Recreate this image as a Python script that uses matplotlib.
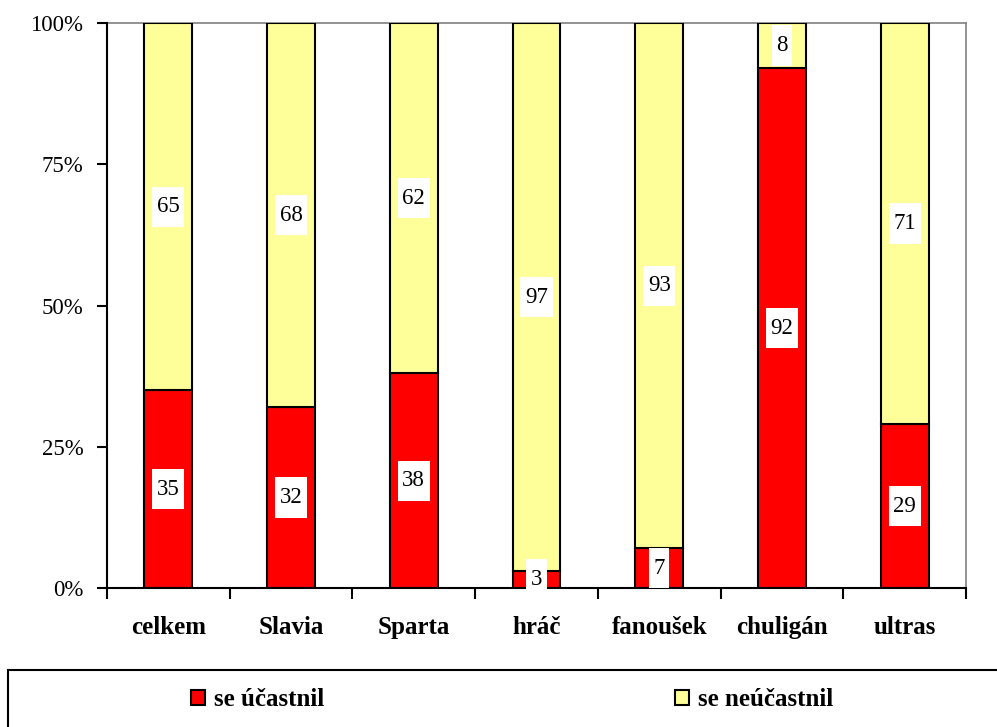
import matplotlib.pyplot as plt
from matplotlib.patches import Rectangle
from matplotlib.path import Path
from matplotlib.ticker import FixedLocator, PercentFormatter

plt.rcParams['font.family'] = ['Liberation Serif', 'DejaVu Serif']

categories = ["celkem", "Slavia", "Sparta", "hráč", "fanoušek", "chuligán", "ultras"]
ucastnil = [35, 32, 38, 3, 7, 92, 29]
neucastnil = [65, 68, 62, 97, 93, 8, 71]
series_names = ["se účastnil", "se neúčastnil"]


def tall_box(x0, y0, width, height, mutation_size):
    # white label box, taller than wide like the Excel data labels
    px = 0.2 * mutation_size
    py = 0.42 * mutation_size
    x0, y0 = x0 - px, y0 - py
    x1, y1 = x0 + width + 2 * px, y0 + height + 2 * py
    return Path([(x0, y0), (x1, y0), (x1, y1), (x0, y1), (x0, y0)], closed=True)


fig = plt.figure(figsize=(9.97, 7.27), dpi=100)
ax = fig.add_axes([107/997, 1-588/727, (966-107)/997, (588-23)/727])

x = list(range(len(categories)))
w = 0.39
b1 = ax.bar(x, ucastnil, width=w, color="#FF0000", edgecolor="black", linewidth=1.5,
            label=series_names[0], zorder=3)
b2 = ax.bar(x, neucastnil, width=w, bottom=ucastnil, color="#FFFF99", edgecolor="black",
            linewidth=1.5, label=series_names[1], zorder=3)

box = dict(boxstyle=tall_box, facecolor="white", edgecolor="none")
for i in x:
    ax.text(i, ucastnil[i] / 2, str(ucastnil[i]), ha="center", va="center", fontsize=16.5,
            bbox=box, zorder=6, clip_on=False)
    ax.text(i, ucastnil[i] + neucastnil[i] / 2, str(neucastnil[i]), ha="center", va="center",
            fontsize=16.5, bbox=box, zorder=6, clip_on=False)

ax.set_xlim(-0.5, len(categories) - 0.5)
ax.set_ylim(0, 100)
ax.set_yticks([0, 25, 50, 75, 100])
ax.yaxis.set_major_formatter(PercentFormatter(decimals=0))
ax.tick_params(axis="y", direction="out", length=7, width=1.5, labelsize=16.5, pad=10)

ax.set_xticks(x)
ax.set_xticklabels(categories, fontsize=18, fontweight="bold")
ax.tick_params(axis="x", which="major", length=0, pad=20)
ax.xaxis.set_minor_locator(FixedLocator([i - 0.5 for i in range(len(categories) + 1)]))
ax.tick_params(axis="x", which="minor", direction="out", length=8, width=1.5)

for s in ["left", "bottom"]:
    ax.spines[s].set_linewidth(1.5)
    ax.spines[s].set_zorder(4)
for s in ["top", "right"]:
    ax.spines[s].set_color("#808080")
    ax.spines[s].set_linewidth(1.2)

# legend frame (cut at the figure edge)
fig.patches.append(Rectangle((8/997, -0.05), 1.1, 0.05 + 1 - 670/727, transform=fig.transFigure,
                             facecolor="none", edgecolor="black", linewidth=1.5))
fig.legend(handles=[b1, b2], loc="center", bbox_to_anchor=(512/997, 1 - 700/727), ncol=2,
           frameon=False, prop={"weight": "bold", "size": 18}, handlelength=0.56,
           handleheight=0.56, handletextpad=0.36, columnspacing=14)

fig.savefig("out.png", dpi=100)
